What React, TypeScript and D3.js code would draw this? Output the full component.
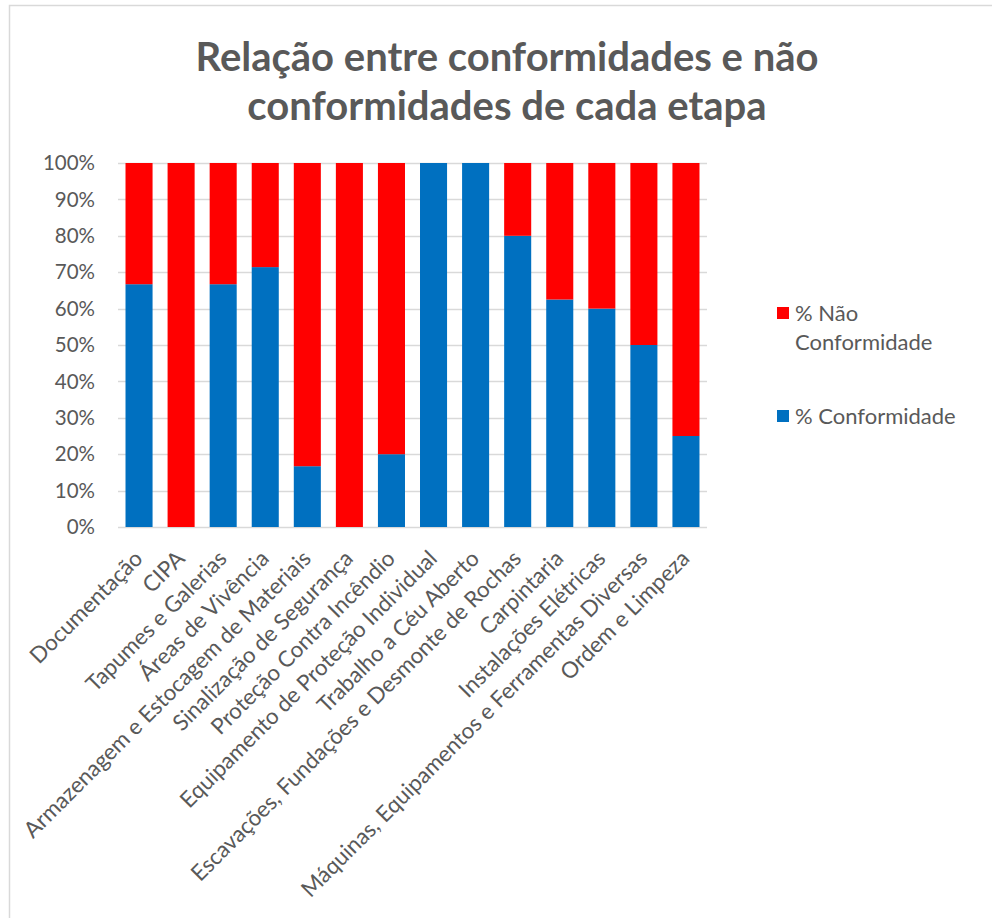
import React, { useEffect, useRef } from "react";
import * as d3 from "d3";

const categories = [
  "Documentação",
  "CIPA",
  "Tapumes e Galerias",
  "Áreas de Vivência",
  "Armazenagem e Estocagem de Materiais",
  "Sinalização de Segurança",
  "Proteção Contra Incêndio",
  "Equipamento de Proteção Individual",
  "Trabalho a Céu Aberto",
  "Escavações, Fundações e Desmonte de Rochas",
  "Carpintaria",
  "Instalações Elétricas",
  "Máquinas, Equipamentos e Ferramentas Diversas",
  "Ordem e Limpeza",
];

const conformidade = [0.667, 0, 0.667, 0.714, 0.167, 0, 0.2, 1, 1, 0.8, 0.625, 0.6, 0.5, 0.25];
const naoConformidade = [0.333, 1, 0.333, 0.286, 0.833, 1, 0.8, 0, 0, 0.2, 0.375, 0.4, 0.5, 0.75];

const yTicks = [0, 0.1, 0.2, 0.3, 0.4, 0.5, 0.6, 0.7, 0.8, 0.9, 1];
const titleLines = ["Relação entre conformidades e não", "conformidades de cada etapa"];
const seriesNames = ["% Não Conformidade", "% Conformidade"];
const seriesColors = ["#FF0000", "#0070C0"];

const W = 992;
const H = 918;
const FONT = "Lato, 'Open Sans', sans-serif";
const TEXT = "#595959";

export default function App() {
  const ref = useRef<SVGSVGElement | null>(null);

  useEffect(() => {
    const svg = d3.select(ref.current);
    svg.selectAll("*").remove();

    const m = { left: 118, right: 707, top: 163, bottom: 527 };

    svg
      .append("rect")
      .attr("x", 9.5)
      .attr("y", 5.5)
      .attr("width", W + 20)
      .attr("height", H + 20)
      .attr("fill", "#fff")
      .attr("stroke", "#d9d9d9")
      .attr("stroke-width", 1.5);

    // Title
    const title = svg
      .append("text")
      .attr("text-anchor", "middle")
      .attr("font-family", FONT)
      .attr("font-weight", 700)
      .attr("font-size", 40)
      .attr("fill", TEXT);
    titleLines.forEach((t, i) => {
      title
        .append("tspan")
        .attr("x", 507)
        .attr("y", 71 + i * 49)
        .text(t);
    });

    const x = d3
      .scaleBand<string>()
      .domain(categories)
      .range([m.left, m.right])
      .paddingInner(0.357)
      .paddingOuter(0.357 / 2);
    const y = d3.scaleLinear().domain([0, 1]).range([m.bottom, m.top]);

    // Gridlines
    svg
      .append("g")
      .selectAll("line")
      .data(yTicks)
      .join("line")
      .attr("x1", m.left)
      .attr("x2", m.right)
      .attr("y1", (d) => Math.round(y(d)) + 0.5)
      .attr("y2", (d) => Math.round(y(d)) + 0.5)
      .attr("stroke", "#d9d9d9")
      .attr("stroke-width", 1.5);

    // Y tick labels
    svg
      .append("g")
      .selectAll("text")
      .data(yTicks)
      .join("text")
      .attr("x", 95)
      .attr("y", (d) => y(d))
      .attr("dy", "0.35em")
      .attr("text-anchor", "end")
      .attr("font-family", FONT)
      .attr("font-size", 20.5)
      .attr("fill", TEXT)
      .text((d) => d3.format(".0%")(d));

    // Stacked bars
    const rows = categories.map((c, i) => ({
      cat: c,
      conf: conformidade[i],
      nao: naoConformidade[i],
    }));
    const stack = d3.stack<any>().keys(["conf", "nao"]);
    const stacked = stack(rows);
    const colorFor: Record<string, string> = { conf: seriesColors[1], nao: seriesColors[0] };

    svg
      .append("g")
      .selectAll("g")
      .data(stacked)
      .join("g")
      .attr("fill", (s) => colorFor[s.key])
      .selectAll("rect")
      .data((s) => s)
      .join("rect")
      .attr("x", (d: any) => x(d.data.cat)!)
      .attr("width", x.bandwidth())
      .attr("y", (d) => y(d[1]))
      .attr("height", (d) => Math.max(0, y(d[0]) - y(d[1])));

    // X labels
    svg
      .append("g")
      .selectAll("text")
      .data(categories)
      .join("text")
      .attr("transform", (d) => `translate(${x(d)! + x.bandwidth() / 2 + 5},${m.bottom + 33}) rotate(-45)`)
      .attr("text-anchor", "end")
      .attr("font-family", FONT)
      .attr("font-size", 22.3)
      .attr("fill", TEXT)
      .text((d) => d);

    // Legend
    const lg = svg.append("g").attr("font-family", FONT).attr("font-size", 22).attr("fill", TEXT);
    const legendItems = [
      { name: seriesNames[0], color: seriesColors[0], y: 307, lines: ["% Não", "Conformidade"] },
      { name: seriesNames[1], color: seriesColors[1], y: 410, lines: ["% Conformidade"] },
    ];
    legendItems.forEach((it) => {
      lg.append("rect").attr("x", 777).attr("y", it.y).attr("width", 12).attr("height", 12).attr("fill", it.color);
      const t = lg.append("text");
      it.lines.forEach((ln, i) => {
        t.append("tspan")
          .attr("x", 795)
          .attr("y", it.y + 6 + i * 29)
          .attr("dy", "0.35em")
          .text(ln);
      });
    });
  }, []);

  return (
    <svg
      ref={ref}
      width={W}
      height={H}
      style={{ position: "absolute", left: 0, top: 0, background: "#fff" }}
    />
  );
}
